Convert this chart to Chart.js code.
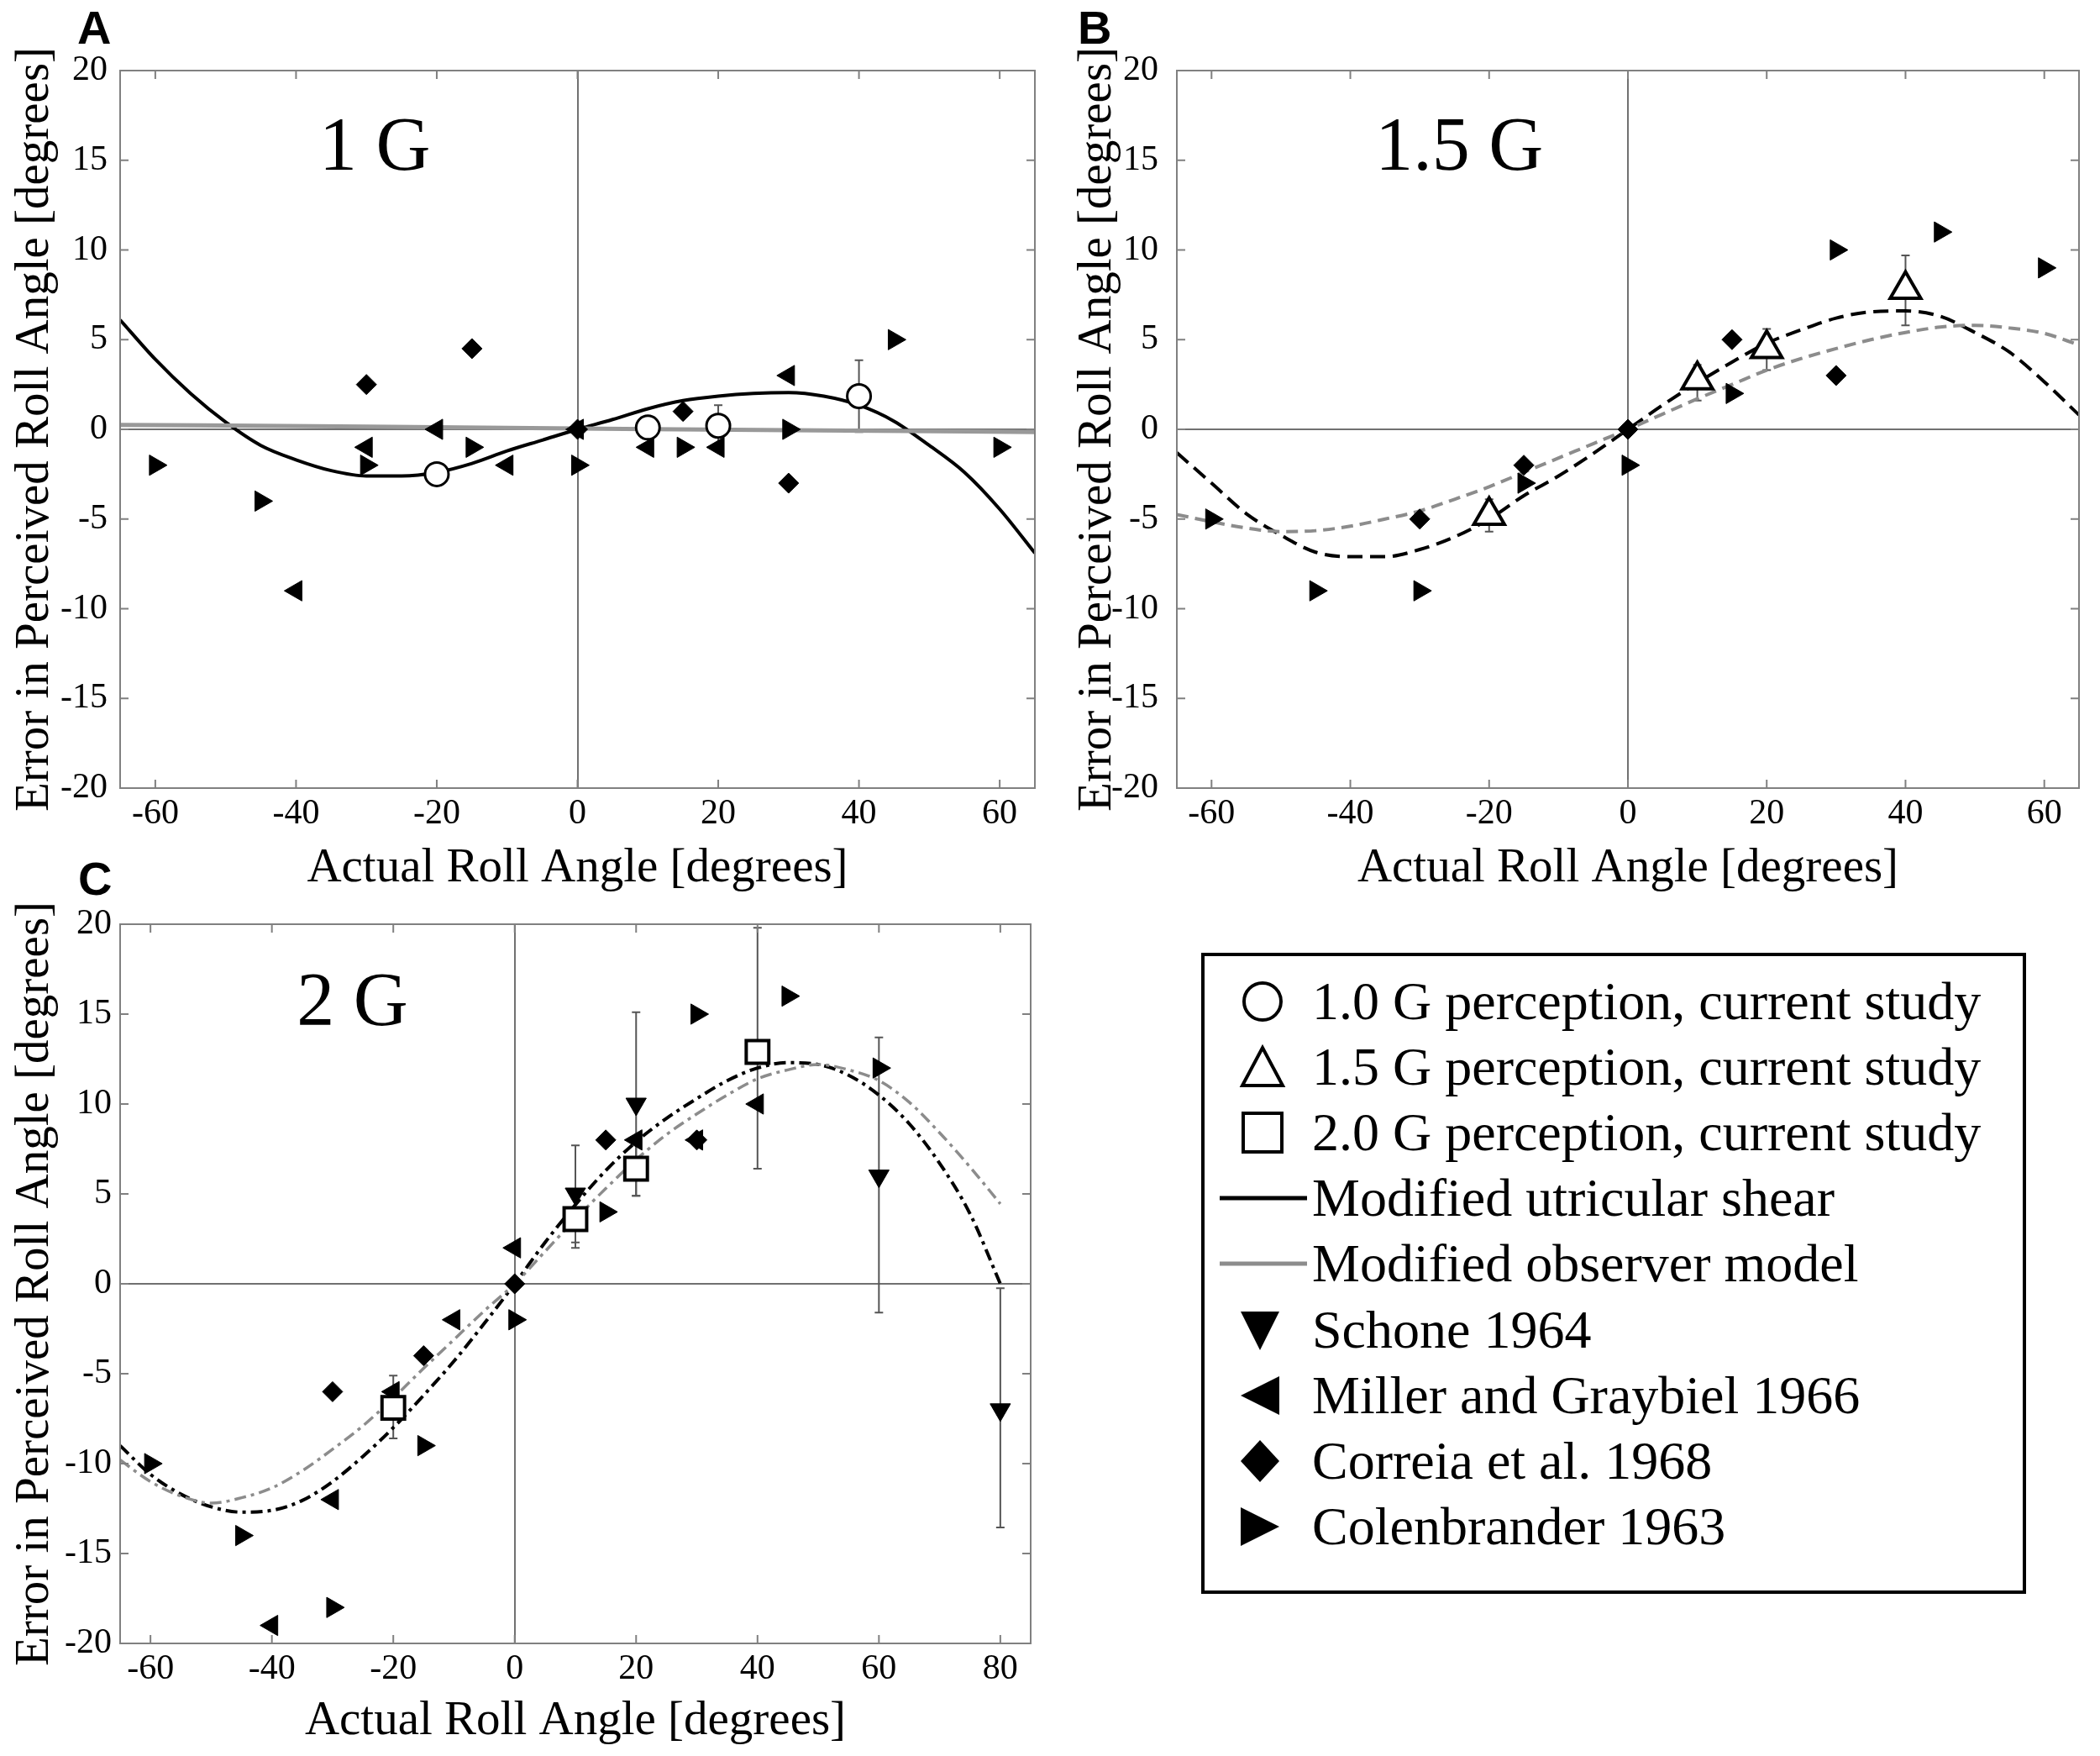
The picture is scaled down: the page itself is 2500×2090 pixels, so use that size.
<!DOCTYPE html>
<html>
<head>
<meta charset="utf-8">
<title>Error in perceived roll angle</title>
<script src="https://cdn.jsdelivr.net/npm/chart.js@4.4.1/dist/chart.umd.min.js"></script>
<style>
    body { margin: 0; background: #fff; }
    #page { position: relative; width: 2500px; height: 2090px; background: #fff; overflow: hidden; }
    canvas { position: absolute; }
    .panel-letter {
        position: absolute;
        font: bold 56px "Liberation Sans", Arial, sans-serif;
        line-height: 56px;
        color: #000;
    }
    #legend {
        position: absolute;
        left: 1430px; top: 1134px;
        width: 982px; height: 763px;
        border: 4px solid #000;
        box-sizing: border-box;
        background: #fff;
        font-family: "Liberation Serif", "Times New Roman", serif;
        color: #000;
    }
    .row { position: absolute; left: 0; width: 100%; height: 78px; line-height: 78px; font-size: 64px; white-space: nowrap; }
    .row svg { position: absolute; top: 9px; }
    .row span { position: absolute; left: 128px; top: 0; }
</style>
</head>
<body>
<div id="page">
    <canvas id="chartA" width="1250" height="1090" style="left:0;top:0"></canvas>
    <canvas id="chartB" width="1250" height="1090" style="left:1250px;top:0"></canvas>
    <canvas id="chartC" width="1250" height="1070" style="left:0;top:1020px"></canvas>
    <div class="panel-letter" style="left:92px;top:5px">A</div>
    <div class="panel-letter" style="left:1283px;top:5px">B</div>
    <div class="panel-letter" style="left:93px;top:1018px">C</div>
    <div id="legend"></div>
</div>

<script>
// ===============================
// DATA
// ===============================
const xTicksAB = [-60, -40, -20, 0, 20, 40, 60];
const xTicksC = [-60, -40, -20, 0, 20, 40, 60, 80];
const yTicks = [-20, -15, -10, -5, 0, 5, 10, 15, 20];

const panelTitles = ["1 G", "1.5 G", "2 G"];
const xTitle = "Actual Roll Angle [degrees]";
const yTitle = "Error in Perceived Roll Angle [degrees]";

// model curves, sampled every 5 degrees
const curveAnglesAB = [-65, -60, -55, -50, -45, -40, -35, -30, -25, -20, -15, -10, -5, 0, 5, 10, 15, 20, 25, 30, 35, 40, 45, 50, 55, 60, 65];
const curveAnglesC = [-65, -60, -55, -50, -45, -40, -35, -30, -25, -20, -15, -10, -5, 0, 5, 10, 15, 20, 25, 30, 35, 40, 45, 50, 55, 60, 65, 70, 75, 80];

const utricularA = [6.1, 3.9, 2.0, 0.4, -0.9, -1.7, -2.3, -2.6, -2.6, -2.4, -1.9, -1.2, -0.6, 0, 0.55, 1.15, 1.6, 1.85, 2.0, 2.05, 1.85, 1.35, 0.45, -0.9, -2.4, -4.45, -6.9];
const observerAAngles = [-65, -30, 0, 30, 65];
const observerA = [0.25, 0.15, 0.05, -0.05, -0.15];

const utricularB = [-1.3, -3.0, -4.7, -5.9, -6.85, -7.1, -7.1, -6.7, -6.0, -5.0, -3.7, -2.6, -1.35, 0, 1.35, 2.6, 3.75, 4.8, 5.55, 6.2, 6.55, 6.6, 6.3, 5.4, 4.3, 2.65, 0.8];
const observerB = [-4.75, -5.15, -5.5, -5.7, -5.65, -5.4, -5.0, -4.55, -3.9, -3.2, -2.4, -1.6, -0.8, 0, 0.85, 1.7, 2.5, 3.3, 3.95, 4.5, 5.0, 5.4, 5.7, 5.8, 5.65, 5.35, 4.7];

const utricularC = [-9.0, -10.6, -11.7, -12.4, -12.7, -12.6, -12.05, -11.0, -9.6, -8.0, -6.2, -4.3, -2.2, 0, 2.3, 4.4, 6.3, 7.9, 9.2, 10.3, 11.3, 12.0, 12.3, 12.2, 11.6, 10.5, 8.9, 6.7, 3.9, 0];
const observerC = [-9.8, -11.0, -11.8, -12.2, -11.9, -11.35, -10.4, -9.2, -7.9, -6.35, -4.7, -3.1, -1.5, 0, 1.8, 3.6, 5.3, 6.9, 8.3, 9.45, 10.5, 11.4, 11.9, 12.2, 11.9, 11.3, 10.1, 8.4, 6.5, 4.45];

// current study (open markers) with error bars
const studyAngles = [-20, 10, 20, 40];
const study1G = [-2.5, 0.1, 0.2, 1.85];
const study1GLow = [-3.1, -0.5, -0.95, -0.15];
const study1GHigh = [-1.9, 0.7, 1.35, 3.85];
const study15G = [-4.8, 2.75, 4.5, 7.8];
const study15GLow = [-5.7, 1.6, 3.3, 5.8];
const study15GHigh = [-3.9, 3.6, 5.6, 9.7];
const study2G = [-6.9, 3.6, 6.4, 12.9];
const study2GLow = [-8.6, 2.0, 4.9, 6.4];
const study2GHigh = [-5.1, 5.2, 7.9, 19.8];

// Schone 1964 (2 G only)
const schoneAngles = [10, 20, 60, 80];
const schone = [5, 10, 6, -7];
const schoneLow = [2.3, 4.9, -1.6, -13.55];
const schoneHigh = [7.7, 15.1, 13.7, -0.25];

// Miller and Graybiel 1966
const millerAAngles = [-40, -30, -20, -10, 0, 10, 20, 30];
const millerA = [-9, -1, 0, -2, 0, -1, -1, 3];
const millerCAngles = [-40, -30, -20, -10, 0, 20, 30, 40];
const millerC = [-19, -12, -6, -2, 2, 8, 8, 10];

// Correia et al. 1968
const correiaAngles = [-30, -15, 0, 15, 30];
const correiaA = [2.5, 4.5, 0, 1, -3];
const correiaB = [-5, -2, 0, 5, 3];
const correiaC = [-6, -4, 0, 8, 8];

// Colenbrander 1963
const colenAngles = [-60, -45, -30, -15, 0, 15, 30, 45, 60];
const colenA = [-2, -4, -2, -1, -2, -1, 0, 5, -1];
const colenB = [-5, -9, -9, -3, -2, 2, 10, 11, 9];
const colenC = [-10, -14, -18, -9, -2, 4, 15, 16, 12];

const legendLabels = [
    "1.0 G perception, current study",
    "1.5 G perception, current study",
    "2.0 G perception, current study",
    "Modified utricular shear",
    "Modified observer model",
    "Schone 1964",
    "Miller and Graybiel 1966",
    "Correia et al. 1968",
    "Colenbrander 1963"
];

// ===============================
// STYLE
// ===============================
const SERIF = "'Liberation Serif', 'Times New Roman', serif";
const FRAME = "#808080";
const GREY_LINE = "#8c8c8c";

function pts(xs, ys) {
    return xs.map((x, i) => ({ x: x, y: ys[i] }));
}

function curve(xs, ys, color, width, dash) {
    return {
        data: pts(xs, ys),
        showLine: true,
        borderColor: color,
        borderWidth: width,
        borderDash: dash,
        pointRadius: 0,
        cubicInterpolationMode: "monotone",
        fill: false,
        order: 5
    };
}

function openMarker(xs, ys, style, radius, width) {
    return {
        data: pts(xs, ys),
        showLine: false,
        pointStyle: style,
        pointRadius: radius,
        pointBackgroundColor: "#fff",
        pointBorderColor: "#000",
        pointBorderWidth: width,
        order: 0
    };
}

function filledMarker(xs, ys, style, radius, rotation) {
    return {
        data: pts(xs, ys),
        showLine: false,
        pointStyle: style,
        pointRadius: radius,
        pointRotation: rotation,
        pointBackgroundColor: "#000",
        pointBorderColor: "#000",
        pointBorderWidth: 1,
        order: 1
    };
}

// ===============================
// PLUGINS
// ===============================
const errorBarPlugin = {
    id: "errorBars",
    beforeDatasetsDraw(chart, args, opts) {
        const { ctx, scales: { x, y } } = chart;
        ctx.save();
        ctx.strokeStyle = "#555";
        ctx.lineWidth = 2;
        (opts.sets || []).forEach(set => {
            set.x.forEach((xv, i) => {
                const px = x.getPixelForValue(xv);
                const lo = y.getPixelForValue(set.low[i]);
                const hi = y.getPixelForValue(set.high[i]);
                ctx.beginPath();
                ctx.moveTo(px, lo); ctx.lineTo(px, hi);
                ctx.moveTo(px - 5, lo); ctx.lineTo(px + 5, lo);
                ctx.moveTo(px - 5, hi); ctx.lineTo(px + 5, hi);
                ctx.stroke();
            });
        });
        ctx.restore();
    }
};

const framePlugin = {
    id: "frame",
    afterDatasetsDraw(chart) {
        const { ctx, chartArea: a, scales: { x, y } } = chart;
        ctx.save();
        ctx.strokeStyle = FRAME;
        ctx.lineWidth = 2;
        ctx.strokeRect(a.left, a.top, a.right - a.left, a.bottom - a.top);
        ctx.beginPath();
        x.ticks.forEach(t => {
            const p = x.getPixelForValue(t.value);
            ctx.moveTo(p, a.bottom); ctx.lineTo(p, a.bottom - 10);
            ctx.moveTo(p, a.top); ctx.lineTo(p, a.top + 10);
        });
        y.ticks.forEach(t => {
            const p = y.getPixelForValue(t.value);
            ctx.moveTo(a.left, p); ctx.lineTo(a.left + 10, p);
            ctx.moveTo(a.right, p); ctx.lineTo(a.right - 10, p);
        });
        ctx.stroke();
        ctx.restore();
    }
};

const panelLabelPlugin = {
    id: "panelLabel",
    afterDatasetsDraw(chart, args, opts) {
        const { ctx, scales: { x, y } } = chart;
        ctx.save();
        ctx.fillStyle = "#000";
        ctx.font = "90px " + SERIF;
        ctx.textAlign = "left";
        ctx.textBaseline = "alphabetic";
        ctx.fillText(opts.text, x.getPixelForValue(opts.x), y.getPixelForValue(opts.y));
        ctx.restore();
    }
};

// ===============================
// PANEL FACTORY
// ===============================
function makePanel(id, cfg) {
    const ctx = document.getElementById(id).getContext("2d");
    return new Chart(ctx, {
        type: "scatter",
        data: { datasets: cfg.datasets },
        options: {
            responsive: false,
            animation: false,
            devicePixelRatio: 1,
            layout: { padding: cfg.padding },
            plugins: {
                legend: { display: false },
                tooltip: { enabled: false },
                errorBars: { sets: cfg.errorSets },
                panelLabel: cfg.label
            },
            scales: {
                x: {
                    type: "linear",
                    min: cfg.xMin,
                    max: cfg.xMax,
                    afterBuildTicks: s => { s.ticks = cfg.xTicks.map(v => ({ value: v })); },
                    afterFit: s => { s.height = cfg.xHeight; },
                    grid: {
                        drawTicks: false,
                        lineWidth: 2,
                        color: c => (c.tick && c.tick.value === 0) ? "#707070" : "rgba(0,0,0,0)"
                    },
                    border: { display: true, color: FRAME, width: 2 },
                    ticks: {
                        padding: 6,
                        color: "#000",
                        maxRotation: 0,
                        autoSkip: false,
                        font: { family: SERIF, size: 42 },
                        callback: v => String(v)
                    },
                    title: {
                        display: true,
                        text: xTitle,
                        color: "#000",
                        font: { family: SERIF, size: 57 },
                        padding: { top: 0, bottom: cfg.xTitlePad }
                    }
                },
                y: {
                    type: "linear",
                    min: -20,
                    max: 20,
                    afterBuildTicks: s => { s.ticks = yTicks.map(v => ({ value: v })); },
                    afterFit: s => { s.width = cfg.yWidth; },
                    grid: {
                        drawTicks: false,
                        lineWidth: 2,
                        color: c => (c.tick && c.tick.value === 0) ? "#707070" : "rgba(0,0,0,0)"
                    },
                    border: { display: true, color: FRAME, width: 2 },
                    ticks: {
                        padding: cfg.yTickPad,
                        color: "#000",
                        font: { family: SERIF, size: 42 },
                        callback: v => String(v)
                    },
                    title: {
                        display: true,
                        text: yTitle,
                        color: "#000",
                        font: { family: SERIF, size: 57 },
                        padding: { top: cfg.yTitlePad, bottom: 0 }
                    }
                }
            }
        },
        plugins: [errorBarPlugin, framePlugin, panelLabelPlugin]
    });
}

// ===============================
// PANEL A - 1 G
// ===============================
makePanel("chartA", {
    xMin: -65, xMax: 65, xTicks: xTicksAB,
    padding: { left: 0, top: 84, right: 18, bottom: 0 },
    yWidth: 143, xHeight: 152, yTickPad: 15, yTitlePad: 8, xTitlePad: 22,
    label: { text: panelTitles[0], x: -36.7, y: 14.45 },
    errorSets: [{ x: studyAngles, low: study1GLow, high: study1GHigh }],
    datasets: [
        curve(observerAAngles, observerA, "#999", 5, []),
        curve(curveAnglesAB, utricularA, "#000", 4, []),
        filledMarker(colenAngles, colenA, "triangle", 14, 90),
        filledMarker(millerAAngles, millerA, "triangle", 14, 270),
        filledMarker(correiaAngles, correiaA, "rectRot", 12, 0),
        openMarker(studyAngles, study1G, "circle", 14, 3)
    ]
});

// ===============================
// PANEL B - 1.5 G
// ===============================
makePanel("chartB", {
    xMin: -65, xMax: 65, xTicks: xTicksAB,
    padding: { left: 0, top: 84, right: 11, bottom: 0 },
    yWidth: 151, xHeight: 152, yTickPad: 22, yTitlePad: 23, xTitlePad: 22,
    label: { text: panelTitles[1], x: -36.4, y: 14.45 },
    errorSets: [{ x: studyAngles, low: study15GLow, high: study15GHigh }],
    datasets: [
        curve(curveAnglesAB, observerB, GREY_LINE, 4, [14, 8]),
        curve(curveAnglesAB, utricularB, "#000", 4, [18, 9]),
        filledMarker(colenAngles, colenB, "triangle", 14, 90),
        filledMarker(correiaAngles, correiaB, "rectRot", 12, 0),
        openMarker(studyAngles, study15G, "triangle", 21, 4)
    ]
});

// ===============================
// PANEL C - 2 G
// ===============================
makePanel("chartC", {
    xMin: -65, xMax: 85, xTicks: xTicksC,
    padding: { left: 0, top: 80, right: 17, bottom: 0 },
    yWidth: 143, xHeight: 134, yTickPad: 10, yTitlePad: 8, xTitlePad: 7,
    label: { text: panelTitles[2], x: -35.9, y: 14.4 },
    errorSets: [
        { x: schoneAngles, low: schoneLow, high: schoneHigh },
        { x: studyAngles, low: study2GLow, high: study2GHigh }
    ],
    datasets: [
        curve(curveAnglesC, observerC, GREY_LINE, 3.5, [14, 6, 4, 6]),
        curve(curveAnglesC, utricularC, "#000", 4, [14, 6, 4, 6]),
        filledMarker(colenAngles, colenC, "triangle", 14, 90),
        filledMarker(millerCAngles, millerC, "triangle", 14, 270),
        filledMarker(correiaAngles, correiaC, "rectRot", 12, 0),
        filledMarker(schoneAngles, schone, "triangle", 14, 180),
        openMarker(studyAngles, study2G, "rect", 19, 4)
    ]
});

// ===============================
// LEGEND
// ===============================
const legendIcons = [
    '<svg width="60" height="60" style="left:39px"><circle cx="30" cy="30" r="22" fill="#fff" stroke="#000" stroke-width="4"/></svg>',
    '<svg width="60" height="60" style="left:39px"><polygon points="30,7 54,52 6,52" fill="#fff" stroke="#000" stroke-width="4" stroke-linejoin="miter"/></svg>',
    '<svg width="60" height="60" style="left:39px"><rect x="7" y="7" width="46" height="46" fill="#fff" stroke="#000" stroke-width="4"/></svg>',
    '<svg width="106" height="60" style="left:18px"><line x1="0" y1="30" x2="104" y2="30" stroke="#000" stroke-width="5"/></svg>',
    '<svg width="106" height="60" style="left:18px"><line x1="0" y1="30" x2="104" y2="30" stroke="#8c8c8c" stroke-width="5"/></svg>',
    '<svg width="60" height="60" style="left:36px"><polygon points="7,8 53,8 30,54" fill="#000"/></svg>',
    '<svg width="60" height="60" style="left:36px"><polygon points="53,7 53,53 7,30" fill="#000"/></svg>',
    '<svg width="60" height="60" style="left:36px"><polygon points="30,5 53,30 30,55 7,30" fill="#000"/></svg>',
    '<svg width="60" height="60" style="left:36px"><polygon points="7,7 7,53 53,30" fill="#000"/></svg>'
];

const legend = document.getElementById("legend");
legendLabels.forEach((label, i) => {
    const row = document.createElement("div");
    row.className = "row";
    row.style.top = (15 + i * 78.1) + "px";
    row.innerHTML = legendIcons[i] + "<span>" + label + "</span>";
    legend.appendChild(row);
});
</script>
</body>
</html>
